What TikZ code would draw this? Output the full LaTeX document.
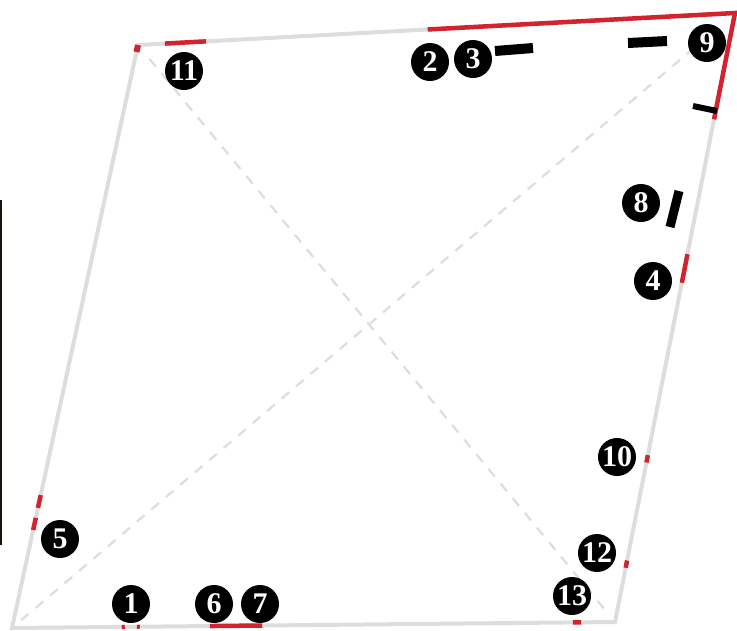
\documentclass[tikz,border=0pt]{standalone}
\usepackage{fontspec}
\setmainfont{Liberation Serif}
\usetikzlibrary{calc}
\definecolor{edgegray}{HTML}{DDDDDD}
\definecolor{markred}{HTML}{D2232F}
\tikzset{
  edge/.style={draw=edgegray, line width=4pt},
  diag/.style={draw=edgegray, line width=2.2pt, dash pattern=on 10pt off 9pt},
  redmark/.style={draw=markred, line width=4.5pt},
  bar/.style={draw=black, line width=#1},
  num/.style={circle, fill=black, text=white, minimum size=38pt, inner sep=0pt,
    font=\fontsize{30}{30}\selectfont\bfseries}
}
\begin{document}
\begin{tikzpicture}[x=1pt,y=-1pt]
\useasboundingbox (0,0) rectangle (737,630);
\fill[black!85!brown] (0,200) rectangle (1.5,545);
% corners
\coordinate (A) at (12,628);
\coordinate (B) at (138,45);
\coordinate (C) at (735,13);
\coordinate (D) at (615,622);
% diagonals
\draw[diag, shorten <=12pt, shorten >=40pt] (A) -- (C);
\draw[diag, shorten <=18pt, shorten >=14pt] (B) -- (D);
% edges
\draw[edge, line join=miter] (A) -- (B) -- (C) -- (D) -- cycle;
% red marks top edge
\draw[redmark] ($(B)!0.045!(C)$) -- ($(B)!0.114!(C)$);
\draw[redmark, line cap=rect] ($(B)!0.489!(C)$) -- (C) -- ($(C)!0.171!(D)$);
\draw[draw=markred, line width=6pt] (B) -- ($(B)!0.012!(A)$);
% right edge
\draw[redmark] ($(C)!0.396!(D)$) -- ($(C)!0.443!(D)$);
\draw[redmark] ($(C)!0.726!(D)$) -- ($(C)!0.738!(D)$);
\draw[redmark] ($(C)!0.899!(D)$) -- ($(C)!0.911!(D)$);
% bottom edge
\draw[draw=markred, line width=4pt] ($(A)!0.182!(D)$) -- ($(A)!0.187!(D)$);
\draw[draw=markred, line width=4pt] ($(A)!0.207!(D)$) -- ($(A)!0.212!(D)$);
\draw[redmark] ($(A)!0.328!(D)$) -- ($(A)!0.415!(D)$);
\draw[redmark] ($(A)!0.930!(D)$) -- ($(A)!0.944!(D)$);
% left edge
\draw[redmark] ($(A)!0.168!(B)$) -- ($(A)!0.189!(B)$);
\draw[redmark] ($(A)!0.206!(B)$) -- ($(A)!0.228!(B)$);
% black bars
\draw[bar=10pt] (495,51) -- (533,48);
\draw[bar=10pt] (628,43) -- (667,41);
\draw[bar=6pt] (693,106) -- (717,111);
\draw[bar=9pt] (679,191) -- (670,227);
% number badges
\node[num] (n1) at (131,604) {1};
\node[num] (n2) at (430,62) {2};
\node[num] (n3) at (473,59) {3};
\node[num] (n4) at (653,281) {4};
\node[num] (n5) at (60,539) {5};
\node[num] (n6) at (214,604) {6};
\node[num] (n7) at (260,604) {7};
\node[num] (n8) at (641,203) {8};
\node[num] (n9) at (707,43) {9};
\node[num] (n10) at (617,457) {10};
\node[num] (n11) at (184,71) {11};
\node[num] (n12) at (597,553) {12};
\node[num] (n13) at (572,596) {13};
\end{tikzpicture}
\end{document}
